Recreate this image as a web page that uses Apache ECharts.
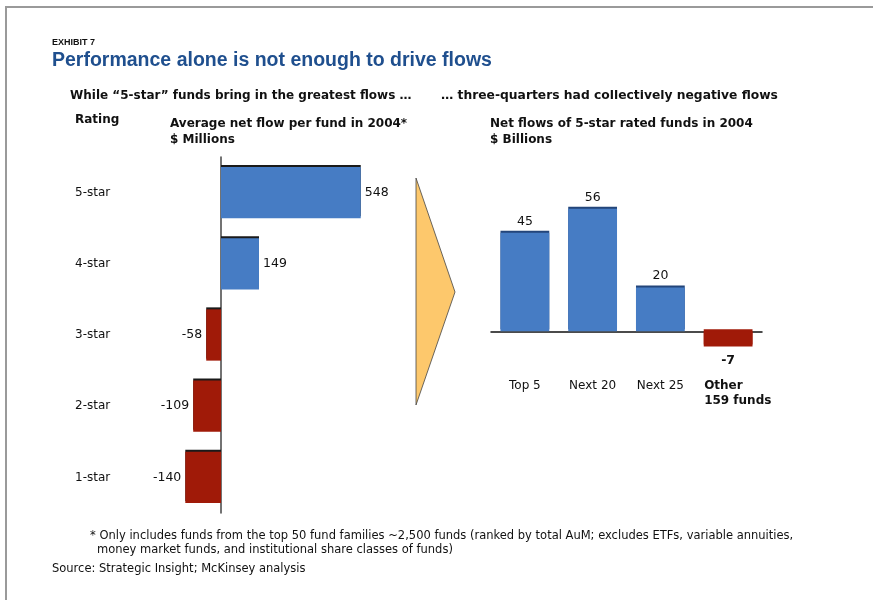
<!DOCTYPE html>
<html>
<head>
<meta charset="utf-8">
<script src="https://cdn.jsdelivr.net/npm/echarts@6/dist/echarts.min.js"></script>
<style>
  html, body { margin: 0; padding: 0; background: #fff; }
  #chart { width: 873px; height: 600px; }
</style>
</head>
<body>
<div id="chart"></div>
<script>
// 数据
const ratings = ['5-star', '4-star', '3-star', '2-star', '1-star'];
const avgFlowMillions = [548, 149, -58, -109, -140];
const groups = ['Top 5', 'Next 20', 'Next 25', 'Other'];
const netFlowBillions = [45, 56, 20, -7];

const BLUE = '#467cc4';
const RED = '#a01a08';
const FONT = '"DejaVu Sans", "Liberation Sans", Arial, sans-serif';
const TITLE_FONT = '"Liberation Sans", Arial, sans-serif';

const chart = echarts.init(document.getElementById('chart'));

function barItem(v, darkTop) {
  return {
    value: v,
    itemStyle: {
      color: v >= 0 ? BLUE : RED,
      shadowColor: darkTop,
      shadowOffsetY: -2,
      shadowBlur: 0
    }
  };
}

const leftData = avgFlowMillions.map(function (v) {
  const it = barItem(v, '#1a1a1a');
  it.label = { position: v >= 0 ? 'right' : 'left' };
  return it;
});
const rightData = netFlowBillions.map(function (v) {
  const it = barItem(v, v >= 0 ? '#23457a' : RED);
  it.label = v >= 0
    ? { position: 'top', distance: 5 }
    : { position: 'bottom', distance: 8, fontWeight: 'bold' };
  return it;
});

function txt(x, y, s, size, weight, color, fam) {
  return {
    type: 'text', left: x, top: y,
    style: { text: s, font: weight + ' ' + size + 'px ' + (fam || FONT), fill: color || '#111' }
  };
}

const option = {
  animation: false,
  textStyle: { fontFamily: FONT },
  grid: [
    { left: 170, top: 157, width: 204, height: 356 },
    { left: 491, top: 200, width: 271, height: 175 }
  ],
  xAxis: [
    {
      gridIndex: 0, type: 'value', min: -200, max: 600,
      show: false
    },
    {
      gridIndex: 1, type: 'category', data: groups,
      axisLine: { onZero: true, lineStyle: { color: '#111', width: 1.5 } },
      axisTick: { show: false },
      axisLabel: {
        interval: 0, margin: 3, color: '#111', fontSize: 12, fontFamily: FONT,
        formatter: function (v) {
          return v === 'Other' ? '{o|Other}\n{o|159 funds}' : '{n|' + v + '}';
        },
        rich: {
          n: { fontSize: 12, fontFamily: FONT, color: '#111', lineHeight: 15 },
          o: { fontSize: 12, fontFamily: FONT, color: '#111', fontWeight: 'bold', width: 48, align: 'left', lineHeight: 15 }
        }
      }
    }
  ],
  yAxis: [
    {
      gridIndex: 0, type: 'category', data: ratings, inverse: true,
      axisLine: { onZero: true, lineStyle: { color: '#444', width: 1.5 } },
      axisTick: { show: false },
      axisLabel: { margin: 95, align: 'left', color: '#111', fontSize: 12, fontFamily: FONT }
    },
    {
      gridIndex: 1, type: 'value', min: -20, max: 60,
      show: false
    }
  ],
  series: [
    {
      type: 'bar', xAxisIndex: 0, yAxisIndex: 0,
      barCategoryGap: '28%',
      data: leftData,
      label: { show: true, distance: 4, color: '#111', fontSize: 12.5, fontFamily: FONT }
    },
    {
      type: 'bar', xAxisIndex: 1, yAxisIndex: 1,
      barCategoryGap: '28%',
      data: rightData,
      label: { show: true, color: '#111', fontSize: 12.5, fontFamily: FONT }
    }
  ],
  graphic: [
    { type: 'polyline', shape: { points: [[6, 600], [6, 7], [873, 7]] }, style: { stroke: '#9a9a9a', lineWidth: 2, fill: null } },
    { type: 'polygon', shape: { points: [[416, 178], [455, 292], [416, 405]] }, style: { fill: '#fdc86c', stroke: '#444', lineWidth: 0.8 } },
    txt(52, 38, 'EXHIBIT 7', 9, 'bold', '#111', TITLE_FONT),
    txt(52, 51, 'Performance alone is not enough to drive flows', 19.5, 'bold', '#1f4f8e', TITLE_FONT),
    txt(70, 90, 'While \u201c5-star\u201d funds bring in the greatest flows \u2026', 12, 'bold'),
    txt(441, 90, '\u2026 three-quarters had collectively negative flows', 12.3, 'bold'),
    txt(75, 114, 'Rating', 12, 'bold'),
    txt(170, 118, 'Average net flow per fund in 2004*', 12, 'bold'),
    txt(170, 134, '$ Millions', 12, 'bold'),
    txt(490, 118, 'Net flows of 5-star rated funds in 2004', 12, 'bold'),
    txt(490, 134, '$ Billions', 12, 'bold'),
    txt(90, 530, '* Only includes funds from the top 50 fund families ~2,500 funds (ranked by total AuM; excludes ETFs, variable annuities,', 11.5, 'normal'),
    txt(97, 544, 'money market funds, and institutional share classes of funds)', 11.5, 'normal'),
    txt(52, 563, 'Source: Strategic Insight; McKinsey analysis', 11.5, 'normal')
  ]
};

chart.setOption(option);
</script>
</body>
</html>
